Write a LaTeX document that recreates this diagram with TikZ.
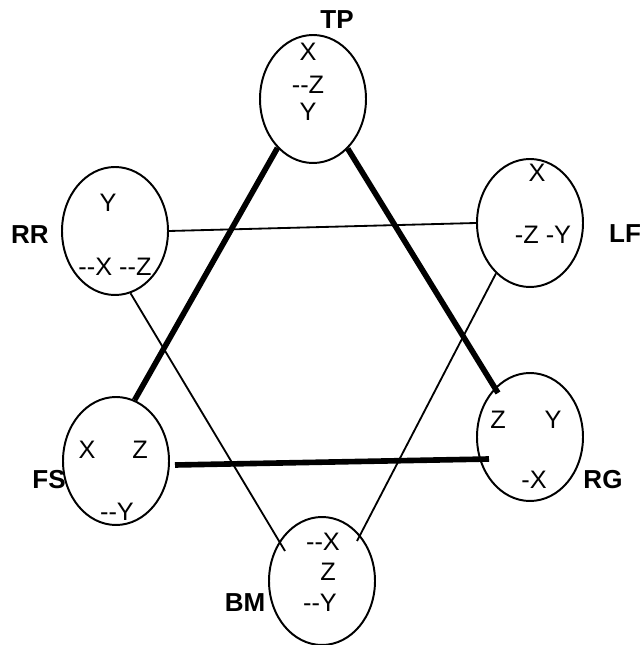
\documentclass[tikz,border=0pt]{standalone}
\usepackage{fontspec}
\setmainfont{Liberation Sans}
\usetikzlibrary{shapes.geometric,calc}
\tikzset{bubble/.style={draw,ellipse,line width=1.4pt,minimum width=2.65cm,minimum height=3.2cm,inner sep=0pt},
         axis/.style={font=\fontsize{18}{20}\selectfont,inner sep=0pt},
         tag/.style={font=\fontsize{18.5}{20}\selectfont\bfseries,inner sep=0pt},
         link/.style={line width=1.3pt},
         heavy/.style={line width=4pt}}

\begin{document}
\begin{tikzpicture}
        \useasboundingbox (0,0) rectangle (16.05,16.125);
        % the six ellipses
        \node[bubble] (tp) at (7.825,13.65) {};
        \node[bubble] (rr) at (2.875,10.35) {};
        \node[bubble] (lf) at (13.25,10.55) {};
        \node[bubble] (fs) at (2.9,4.6) {};
        \node[bubble] (rg) at (13.25,5.2) {};
        \node[bubble] (bm) at (8.05,1.6) {};
        % names
        \node[tag] (tpname) at (8.425,15.625) {TP};
        \node[tag] (rrname) at (0.75,10.25) {RR};
        \node[tag] (lfname) at (15.625,10.275) {LF};
        \node[tag] (fsname) at (1.225,4.125) {FS};
        \node[tag] (rgname) at (15.075,4.125) {RG};
        \node[tag] (bmname) at (6.125,1.05) {BM};
        % axes inside
        \node[axis] (tpa) at (7.7,14.825) {X};
        \node[axis] (tpb) at (7.7,14.0) {-{}-Z};
        \node[axis] (tpc) at (7.7,13.325) {Y};
        \node[axis] (rra) at (2.7,11.05) {Y};
        \node[axis] (rrb) at (2.875,9.45) {-{}-X -{}-Z};
        \node[axis] (lfa) at (13.425,11.8) {X};
        \node[axis] (lfb) at (13.575,10.25) {-Z -Y};
        \node[axis] (fsa) at (2.175,4.875) {X};
        \node[axis] (fsb) at (3.5,4.875) {Z};
        \node[axis] (fsc) at (2.925,3.325) {-{}-Y};
        \node[axis] (rga) at (12.45,5.625) {Z};
        \node[axis] (rgb) at (13.825,5.625) {Y};
        \node[axis] (rgc) at (13.35,4.125) {-X};
        \node[axis] (bma) at (8.075,2.575) {-{}-X};
        \node[axis] (bmb) at (8.2,1.825) {Z};
        \node[axis] (bmc) at (8.0,1.05) {-{}-Y};
        % thin triangle
        \draw[link] (rr.east) -- (lf.west);
        \draw[link] (rr.-76) -- ($(bm)+(-0.925,0.75)$);
        \draw[link] (lf.-124) -- ($(bm)+(0.875,1.0)$);
        % thick triangle
        \draw[heavy] (tp.-126) -- (fs.73);
        \draw[heavy] (tp.-55) -- ($(rg)+(-0.8,1.1)$);
        \draw[heavy] ($(fs)+(1.475,-0.1)$) -- ($(rg)+(-1.025,-0.55)$);
    \end{tikzpicture}
\end{document}
